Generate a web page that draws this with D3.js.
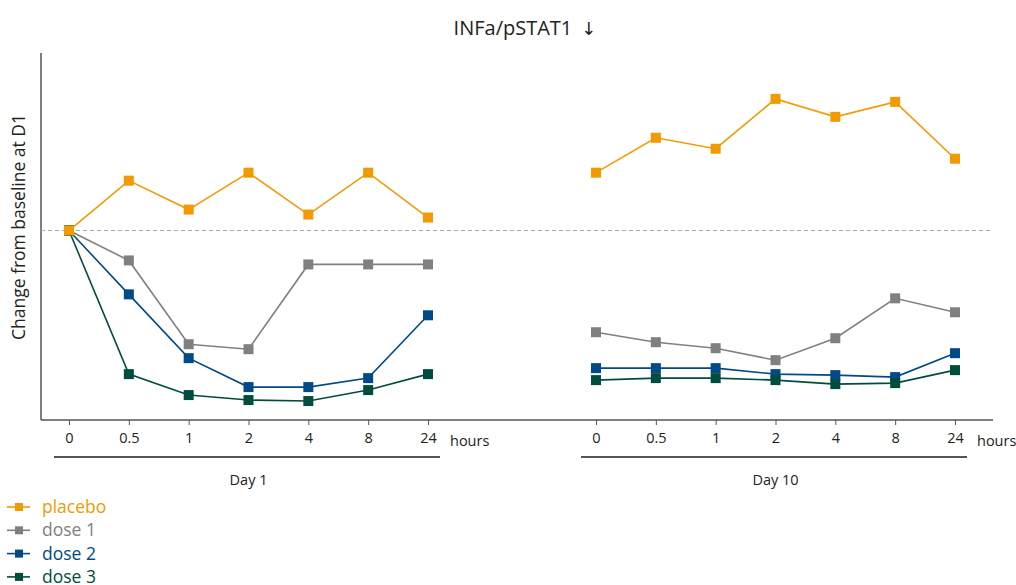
<!DOCTYPE html>
<html>
<head>
<meta charset="utf-8">
<script src="https://cdn.jsdelivr.net/npm/d3@7"></script>
<style>
  html, body { margin: 0; padding: 0; background: #fff; }
  svg { display: block; font-family: "Open Sans", "Noto Sans", sans-serif; }
</style>
</head>
<body>
<svg id="chart" width="1016" height="585"></svg>
<script>
// Sampling times (hours after dose), shared by both study days
const timepoints = ["0", "0.5", "1", "2", "4", "8", "24"];
const days = ["Day 1", "Day 10"];
const seriesNames = ["placebo", "dose 1", "dose 2", "dose 3"];
const seriesColors = ["#f39a00", "#808080", "#004a87", "#004d40"];

// Change from baseline at D1 (arbitrary units), per time point
const placeboDay1 = [0, 25, 10.5, 29, 8, 29, 6.5];
const dose1Day1   = [0, -15, -57, -59.5, -17, -17, -17];
const dose2Day1   = [0, -32, -64, -78.5, -78.5, -74, -42.5];
const dose3Day1   = [0, -72, -82.5, -85, -85.5, -80, -72];

const placeboDay10 = [29, 46.5, 41, 66, 57, 64.5, 36];
const dose1Day10   = [-51, -56, -59, -65, -54, -34, -41];
const dose2Day10   = [-69, -69, -69, -72, -72.5, -73.5, -61.5];
const dose3Day10   = [-75, -74, -74, -75, -77, -76.5, -70];

const valuesByDay = [
  [placeboDay1, dose1Day1, dose2Day1, dose3Day1],
  [placeboDay10, dose1Day10, dose2Day10, dose3Day10]
];

const svg = d3.select("#chart");
const plotLeft = 41, plotRight = 993, plotTop = 53, plotBottom = 420;

// Each day gets its own point scale; the two blocks are separated by a gap
const dayRanges = [[69, 428], [596, 955]];
const xScales = dayRanges.map(r => d3.scalePoint().domain(timepoints).range(r));
const y = d3.scaleLinear().domain([-95, 89]).range([plotBottom, plotTop]);

// Title
const title = svg.append("text")
  .attr("x", 525).attr("y", 35)
  .attr("text-anchor", "middle")
  .attr("font-size", 20).attr("fill", "#222");
title.append("tspan").text("INFa/pSTAT1");
title.append("tspan")
  .attr("dx", 9)
  .attr("font-family", "'DejaVu Sans', sans-serif")
  .attr("font-size", 18)
  .attr("fill", "#222")
  .text("\u2193");

// Y axis title
svg.append("text")
  .attr("transform", "translate(25,227) rotate(-90)")
  .attr("text-anchor", "middle")
  .attr("font-size", 17.5).attr("fill", "#222")
  .text("Change from baseline at D1");

// Axis lines
svg.append("line")
  .attr("x1", plotLeft).attr("x2", plotLeft).attr("y1", plotTop).attr("y2", plotBottom)
  .attr("stroke", "#555").attr("stroke-width", 1.5);
svg.append("line")
  .attr("x1", plotLeft).attr("x2", plotRight).attr("y1", plotBottom).attr("y2", plotBottom)
  .attr("stroke", "#555").attr("stroke-width", 1.5);

// Baseline reference
svg.append("line")
  .attr("x1", plotLeft).attr("x2", plotRight).attr("y1", y(0)).attr("y2", y(0))
  .attr("stroke", "#aaa").attr("stroke-width", 1.2)
  .attr("stroke-dasharray", "4,3");

// Bottom axes, one per day
xScales.forEach((xs, d) => {
  const ax = svg.append("g")
    .attr("transform", `translate(0,${plotBottom})`)
    .call(d3.axisBottom(xs).tickSize(5).tickPadding(8));
  ax.select(".domain").remove();
  ax.selectAll(".tick line").attr("stroke", "#555");
  ax.selectAll(".tick text")
    .attr("font-size", 14.5).attr("fill", "#222")
    .attr("font-family", "'Open Sans', 'Noto Sans', sans-serif");

  const [x0, x1] = xs.range();
  svg.append("text")
    .attr("x", x1 + 22).attr("y", 446)
    .attr("font-size", 14.5).attr("fill", "#222")
    .text("hours");
  svg.append("line")
    .attr("x1", x0 - 15).attr("x2", x1 + 12)
    .attr("y1", 457).attr("y2", 457)
    .attr("stroke", "#555").attr("stroke-width", 2);
  svg.append("text")
    .attr("x", (x0 + x1) / 2).attr("y", 485)
    .attr("text-anchor", "middle")
    .attr("font-size", 14.5).attr("fill", "#222")
    .text(days[d]);
});

// Series lines and square markers; placebo is drawn last so it sits on top
const markerSize = 10;
const drawOrder = [1, 2, 3, 0];
valuesByDay.forEach((daySeries, d) => {
  const xs = xScales[d];
  const line = d3.line().x((v, i) => xs(timepoints[i])).y(v => y(v));
  drawOrder.forEach(s => {
    const vals = daySeries[s];
    const g = svg.append("g");
    g.append("path")
      .attr("d", line(vals))
      .attr("fill", "none")
      .attr("stroke", seriesColors[s])
      .attr("stroke-width", 1.6);
    g.selectAll("rect")
      .data(vals)
      .join("rect")
      .attr("x", (v, i) => xs(timepoints[i]) - markerSize / 2)
      .attr("y", v => y(v) - markerSize / 2)
      .attr("width", markerSize).attr("height", markerSize)
      .attr("fill", seriesColors[s]);
  });
});

// Legend
const legend = svg.append("g");
seriesNames.forEach((name, s) => {
  const ly = 507 + s * 23.3;
  legend.append("line")
    .attr("x1", 7).attr("x2", 30).attr("y1", ly).attr("y2", ly)
    .attr("stroke", seriesColors[s]).attr("stroke-width", 1.6);
  legend.append("rect")
    .attr("x", 15).attr("y", ly - 4).attr("width", 8).attr("height", 8)
    .attr("fill", seriesColors[s]);
  legend.append("text")
    .attr("x", 42).attr("y", ly + 6)
    .attr("font-size", 17.5).attr("fill", seriesColors[s])
    .text(name);
});
</script>
</body>
</html>
